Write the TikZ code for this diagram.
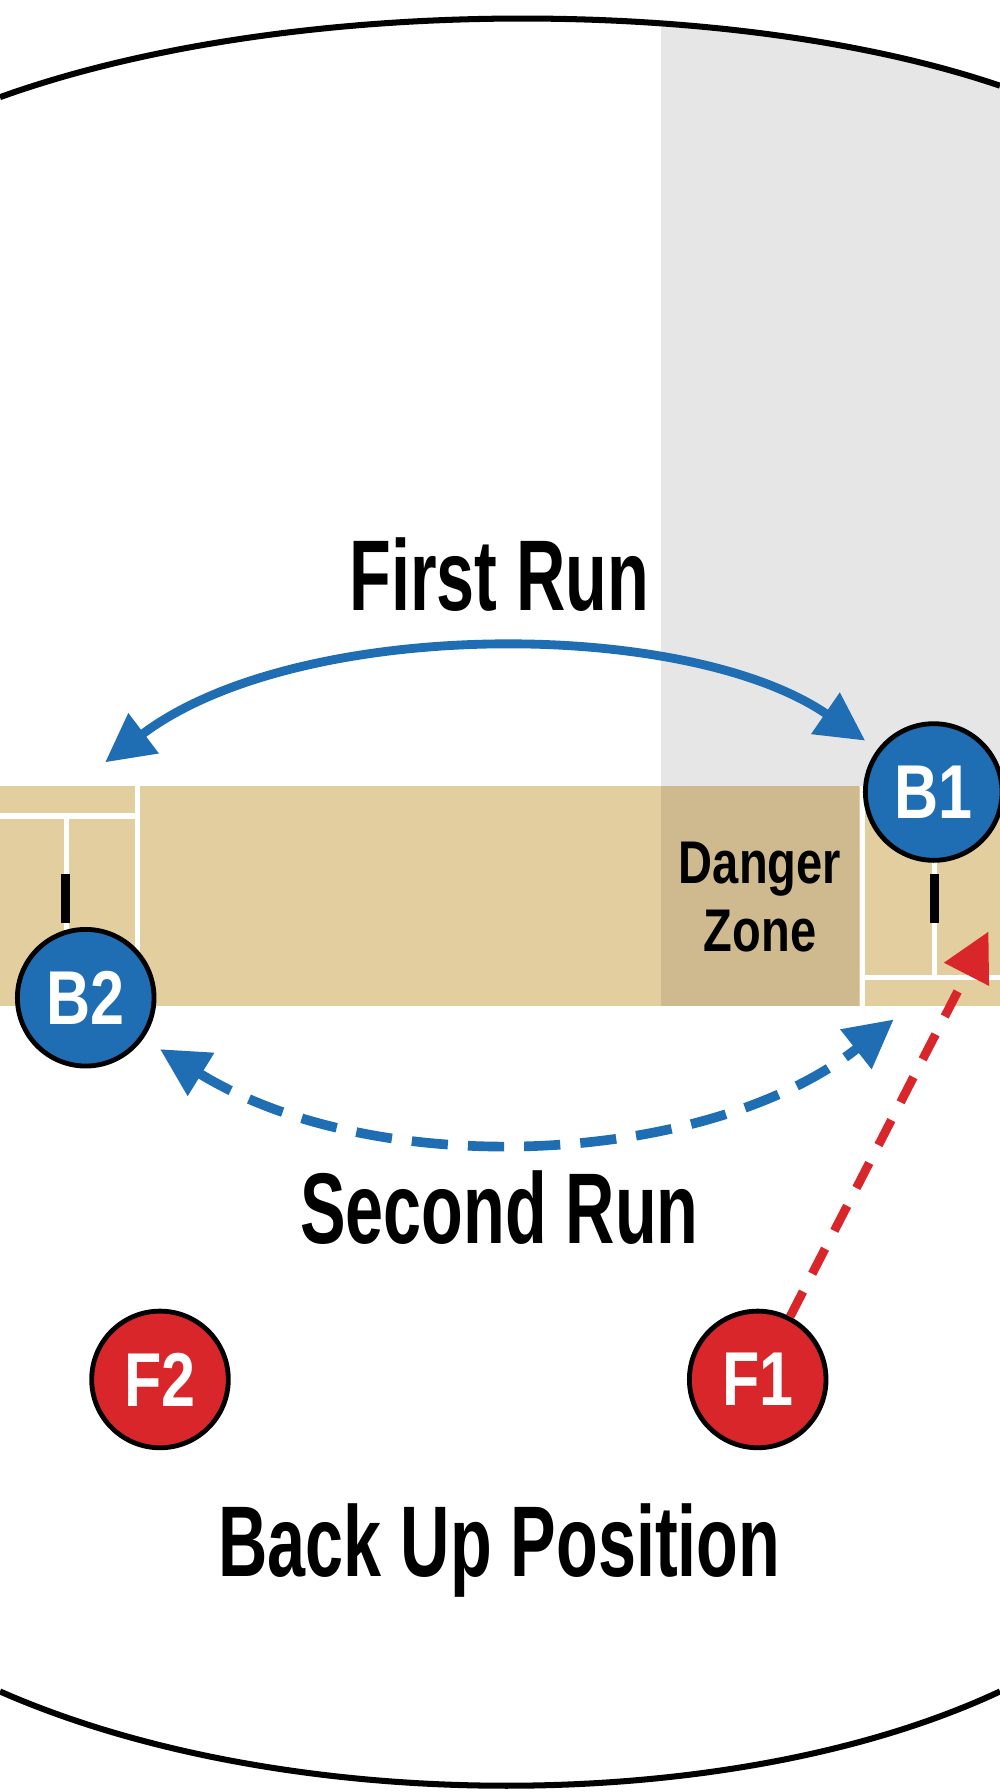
\documentclass[tikz,border=0pt]{standalone}
\usepackage{fontspec}
\setmainfont{Liberation Sans}
\usetikzlibrary{arrows.meta}
\definecolor{pblue}{HTML}{1F6DB3}
\definecolor{pred}{HTML}{D9262A}
\definecolor{tan}{HTML}{E2CE9E}
\definecolor{dtan}{HTML}{CFBA8F}
\definecolor{lgray}{HTML}{E6E6E6}
\newcommand{\cn}[1]{\scalebox{0.8}[1]{#1}}
\tikzset{
 player/.style={circle,draw=black,line width=1.2pt,minimum size=34pt,inner sep=0pt,text=white,font=\bfseries\fontsize{19}{19}\selectfont},
 lbl/.style={font=\bfseries\fontsize{25}{25}\selectfont,xscale=0.68,align=center},
 crease/.style={white,line width=1.3pt}
}
\begin{document}
\begin{tikzpicture}[x=0.01cm,y=-0.01cm]
\useasboundingbox (0,0) rectangle (875,1568);
\fill[white] (0,0) rectangle (875,1568);
\begin{scope}
\clip (0,85) .. controls (250,-5) and (640,-5) .. (875,75) -- (875,1480) .. controls (640,1590) and (250,1590) .. (0,1480) -- cycle;
\fill[lgray] (578,0) rectangle (875,688);
\end{scope}
\draw[line width=1.5pt] (0,85) .. controls (250,-5) and (640,-5) .. (875,75);
\draw[line width=1.5pt] (0,1480) .. controls (250,1590) and (640,1590) .. (875,1480);
% pitch
\fill[tan] (0,688) rectangle (875,880);
\fill[dtan] (578,688) rectangle (752,880);
\draw[crease] (120,688) -- (120,880);
\draw[crease] (755,688) -- (755,880);
\draw[crease] (0,714) -- (120,714);
\draw[crease] (58,714) -- (58,855);
\draw[crease] (755,855) -- (875,855);
\draw[crease] (818,740) -- (818,855);
\draw[line width=2.2pt] (57,765) -- (57,808);
\draw[line width=2.2pt] (818,765) -- (818,808);
\node[font=\bfseries\fontsize{15}{17}\selectfont,xscale=0.78,align=center] (dz) at (665,785) {Danger\\Zone};
% players
\node[player,fill=pblue] (B1) at (817,693) {\cn{B1}};
\node[player,fill=pblue] (B2) at (75,873) {\cn{B2}};
\node[player,fill=pred] (F2) at (140,1207) {\cn{F2}};
\node[player,fill=pred] (F1) at (663,1207) {\cn{F1}};
\coordinate (a1) at (92,667);
\coordinate (a2) at (757,648);
\coordinate (s1) at (140,918);
\coordinate (s2) at (782,892);
\coordinate (r2) at (865,815);
\draw[pblue,line width=2.2pt,{Triangle[length=12pt,width=12pt]}-{Triangle[length=12pt,width=12pt]}] (a1) .. controls (260,540) and (600,540) .. (a2);
\draw[pblue,line width=2.4pt,dash pattern=on 9pt off 5pt,{Triangle[length=12pt,width=12pt]}-{Triangle[length=12pt,width=12pt]}] (s1) .. controls (330,1035) and (620,1020) .. (s2);
\draw[pred,line width=2.2pt,dash pattern=on 7pt off 5pt,-{Triangle[length=12pt,width=12pt]}] (F1) -- (r2);
\node[lbl] (t1) at (437,503) {First Run};
\node[lbl] (t2) at (437,1057) {Second Run};
\node[lbl] (t3) at (437,1357) {Back Up Position};
\end{tikzpicture}
\end{document}
